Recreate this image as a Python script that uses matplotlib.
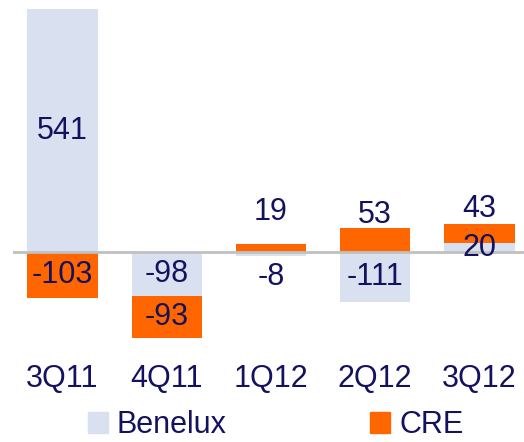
import numpy as np
import matplotlib
matplotlib.use("Agg")
import matplotlib.pyplot as plt
from matplotlib.patches import Patch

quarters = ["3Q11", "4Q11", "1Q12", "2Q12", "3Q12"]
benelux = [541, -98, -8, -111, 20]
cre = [-103, -93, 19, 53, 43]

# label nudges in pixels (some labels sit outside small bars)
benelux_nudge = [0, 0, -23, 0, 0]
cre_nudge = [0, 0, 36, 25, 24]

c_ben = "#D9E0EF"
c_cre = "#FF6600"
c_txt = "#12125E"

plt.rcParams["font.family"] = ["Liberation Sans", "DejaVu Sans"]

fig = plt.figure(figsize=(5.24, 4.42), dpi=100)
W, H = 524, 442
ax_left, ax_right = 13, 524
ax_top, ax_bot = 0, 342
ax = fig.add_axes([ax_left / W, 1 - ax_bot / H, (ax_right - ax_left) / W, (ax_bot - ax_top) / H])

x = np.arange(len(quarters))
ben = np.array(benelux)
cr = np.array(cre)

# stack CRE on top of Benelux when both have the same sign
cre_base = np.where(np.sign(ben) == np.sign(cr), ben, 0)

width = 0.675
ax.bar(x, ben, width, color=c_ben, zorder=2)
ax.bar(x, cr, width, bottom=cre_base, color=c_cre, zorder=2)
ax.axhline(0, color="#C0C0C0", lw=2, zorder=3)

for i in range(len(x)):
    ax.annotate(str(ben[i]), (x[i], ben[i] / 2), xytext=(0, benelux_nudge[i]),
                textcoords="offset pixels", ha="center", va="center",
                fontsize=22, color=c_txt, zorder=4)
    ax.annotate(str(cr[i]), (x[i], cre_base[i] + cr[i] / 2), xytext=(0, cre_nudge[i]),
                textcoords="offset pixels", ha="center", va="center",
                fontsize=22, color=c_txt, zorder=4)

ax.set_xlim(-0.475, 4.427)
ax.set_ylim(-200, 561)
ax.set_xticks(x)
ax.set_xticklabels(quarters, fontsize=22, color=c_txt)
ax.tick_params(axis="x", length=0, pad=16)
ax.set_yticks([])
for s in ax.spines.values():
    s.set_visible(False)

handles = [Patch(color=c_ben), Patch(color=c_cre)]
leg = fig.legend(handles, ["Benelux", "CRE"], ncol=2, loc="center",
                 bbox_to_anchor=(0.526, 0.038), frameon=False, fontsize=22,
                 handlelength=0.65, handleheight=0.65, handletextpad=0.3,
                 columnspacing=4.7, borderpad=0)
for t in leg.get_texts():
    t.set_color(c_txt)

fig.savefig("out.png", dpi=100)
